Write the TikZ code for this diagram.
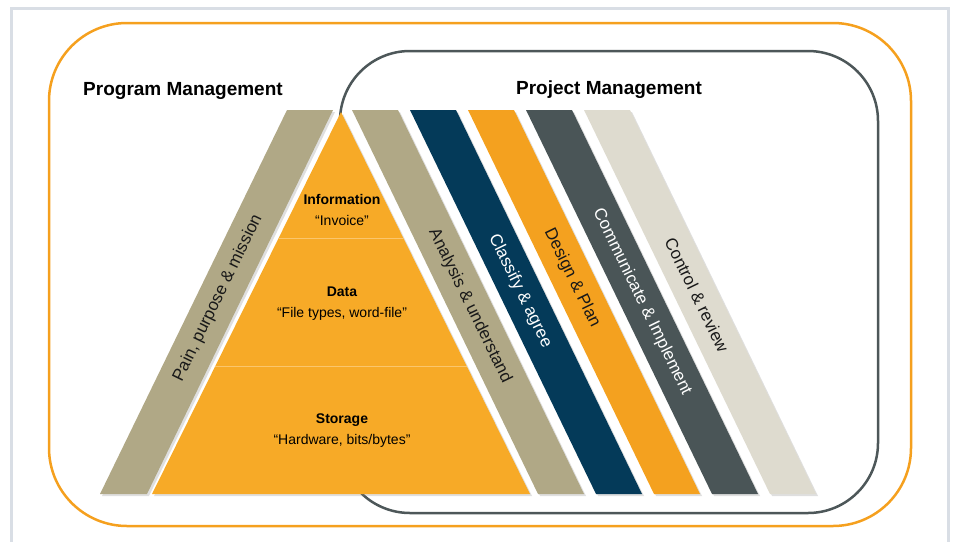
\documentclass[tikz,border=0pt]{standalone}
\usepackage{fontspec}
\setmainfont{Liberation Sans}
\usepackage{xcolor}
\usetikzlibrary{shadows}
\definecolor{framegray}{HTML}{D9DEE5}
\definecolor{pmorange}{HTML}{F5A01E}
\definecolor{pmslate}{HTML}{4D5759}
\definecolor{pyrorange}{HTML}{F7AA27}
\definecolor{pyrline}{HTML}{FBC66C}
\definecolor{bandtan}{HTML}{B0A886}
\definecolor{bandnavy}{HTML}{043A59}
\definecolor{bandorange}{HTML}{F4A11F}
\definecolor{bandslate}{HTML}{4A5557}
\definecolor{bandbeige}{HTML}{DEDBCF}

\begin{document}
\begin{tikzpicture}[x=1pt, y=-1pt,
    band/.style={drop shadow={opacity=0.25, shadow xshift=2pt, shadow yshift=-2pt}},
    bandtext/.style={font=\fontsize{17}{20}\selectfont, text=black!90},
    title/.style={font=\fontsize{19}{22}\selectfont\bfseries},
    layer/.style={font=\fontsize{14}{21}\selectfont, align=center}]
    \useasboundingbox (0,0) rectangle (958,541);
    % frame and the two areas
    \draw[framegray, line width=3pt] (11,560) -- (11,8) -- (948,8) -- (948,560);
    \draw[pmorange, line width=2.5pt, rounded corners=78pt] (49,23) rectangle (911,526);
    \draw[pmslate, line width=2.5pt, rounded corners=70pt] (340,51) rectangle (878,513);
    % bands
    \fill[bandtan, band] (287,110) -- (333,110) -- (147,494) -- (100,494) -- cycle;
    \foreach \x/\c in {352/bandtan, 410/bandnavy, 468/bandorange, 526/bandslate, 584/bandbeige}
        \fill[\c, band] (\x,110) -- ++(46,0) -- ++(186,384) -- ++(-46,0) -- cycle;
    % pyramid
    \fill[pyrorange, band] (341,112) -- (530,494) -- (152,494) -- cycle;
    \begin{scope}
        \clip (341,112) -- (530,494) -- (152,494) -- cycle;
        \draw[pyrline, thin] (100,238) -- (600,238);
        \draw[pyrline, thin] (100,366) -- (600,366);
    \end{scope}
    % titles
    \node[title] (progtitle) at (183,91) {Program Management};
    \node[title] (projtitle) at (609,90) {Project Management};
    % pyramid levels
    \node[layer] (info) at (342,210) {\textbf{Information}\\“Invoice”};
    \node[layer] (data) at (342,304) {\textbf{Data}\\“File types, word-file”};
    \node[layer] (storage) at (342,431) {\textbf{Storage}\\“Hardware, bits/bytes”};
    % band labels
    \node[bandtext, rotate=64] (pain) at (218,298) {Pain, purpose \& mission};
    \node[bandtext, rotate=-64] (analysis) at (470,306) {Analysis \& understand};
    \node[bandtext, rotate=-64, text=white] (classify) at (520,291) {Classify \& agree};
    \node[bandtext, rotate=-64] (design) at (572,278) {Design \& Plan};
    \node[bandtext, rotate=-64, text=white] (communicate) at (642,302) {Communicate \& Implement};
    \node[bandtext, rotate=-64] (control) at (697,295) {Control \& review};
\end{tikzpicture}
\end{document}
